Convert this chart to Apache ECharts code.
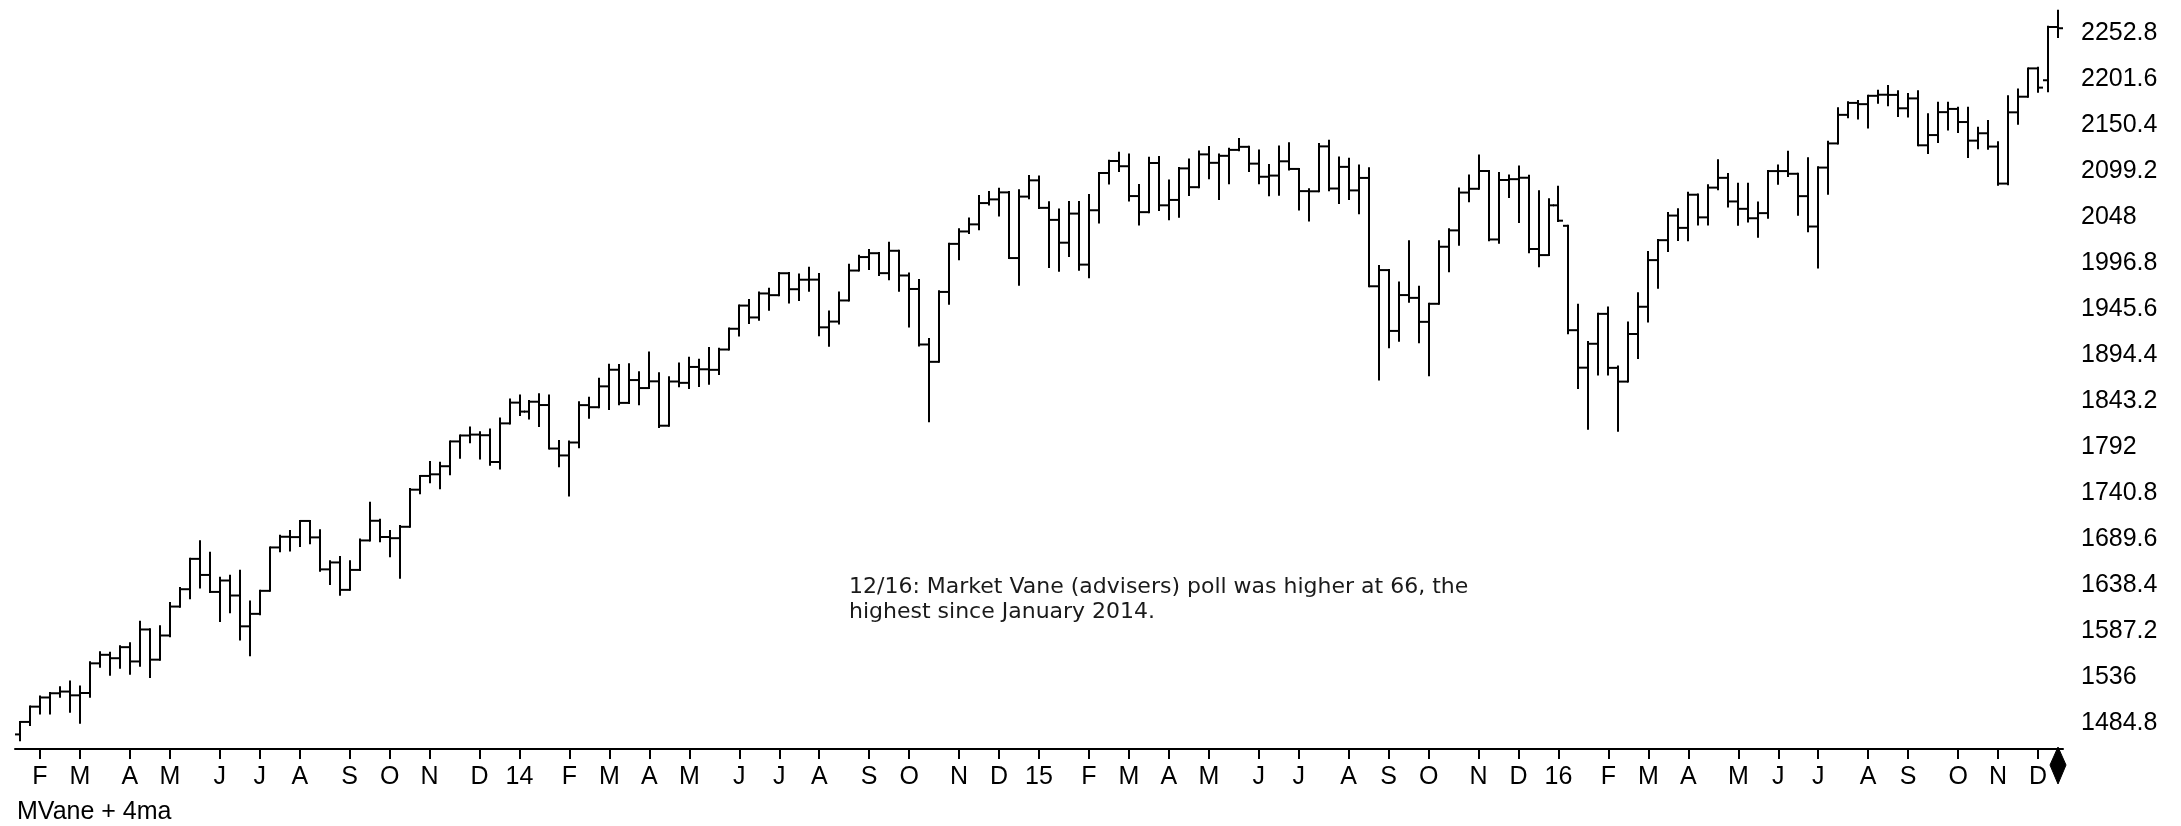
<!DOCTYPE html>
<html><head><meta charset="utf-8">
<script src="https://cdn.jsdelivr.net/npm/echarts@6/dist/echarts.min.js"></script>
<style>html,body{margin:0;padding:0;background:#fff}#c{width:2181px;height:826px}</style>
</head><body><div id="c"></div>
<script>
// Weekly bars (Friday dates), first week and count
const firstWeek = '2013-01-18';
const weekCount = 205;
const monthLetters = ['J','F','M','A','M','J','J','A','S','O','N','D'];
const yTickMin = 1484.8, yTickMax = 2252.8, yTickStep = 51.2;

const opens = [
// 2013
1472.1,1486.0,1503.0,1513.2,1517.9,1519.8,1515.6,1518.2,1551.2,1560.7,
1556.9,1569.2,1553.3,1588.9,1555.3,1582.2,1614.4,1633.7,1667.5,1649.6,
1630.7,1643.4,1626.7,1592.4,1606.3,1631.9,1680.2,1692.1,1691.7,1709.7,
1691.4,1655.8,1663.5,1633.0,1655.2,1688.0,1709.9,1691.8,1690.5,1703.2,
1744.5,1759.8,1761.6,1770.6,1798.2,1804.8,1805.8,1805.1,1775.3,1818.3,
// 2014
1841.4,1831.4,1842.4,1838.7,1790.3,1782.6,1797.0,1838.6,1836.3,1859.5,
1878.0,1841.1,1866.5,1857.6,1865.1,1815.7,1864.9,1863.4,1881.1,1878.5,
1877.9,1900.5,1923.6,1949.4,1936.2,1962.9,1961.0,1985.4,1967.6,1978.2,
1978.3,1925.2,1931.6,1955.1,1988.4,2003.4,2007.7,1985.5,2010.4,1982.9,
1967.9,1906.1,1886.8,1964.6,2018.1,2031.9,2039.8,2063.5,2067.6,2075.4,
2002.3,2070.7,
// 2015
2088.8,2058.2,2044.8,2019.4,2051.8,1995.0,2055.5,2097.0,2110.3,2104.5,
2071.3,2053.4,2108.1,2061.0,2067.0,2102.1,2081.2,2117.7,2108.3,2116.1,
2122.7,2126.1,2107.4,2092.8,2094.1,2110.0,2101.5,2076.8,2076.6,2126.6,
2079.7,2103.8,2077.6,2091.5,1970.9,1988.9,1921.2,1961.1,1958.0,1931.3,
1951.4,2014.9,2033.1,2075.2,2079.4,2099.2,2023.0,2089.2,2090.1,2091.7,
2012.4,2005.6,
// 2016
2061.0,2038.2,1922.0,1880.3,1906.9,1940.2,1880.1,1864.8,1917.8,1948.1,
2000.0,2022.2,2049.6,2035.9,2072.8,2047.6,2080.7,2091.6,2065.3,2057.1,
2046.6,2052.3,2099.1,2099.1,2096.1,2071.2,2037.4,2103.0,2129.9,2161.7,
2175.0,2173.6,2182.9,2184.1,2183.9,2169.0,2180.0,2127.8,2139.2,2164.7,
2168.3,2153.7,2133.0,2141.2,2126.4,2085.2,2164.5,2181.9,2213.4,2200.2,
2259.5
];

const highs = [
// 2013
1486.0,1503.3,1514.4,1518.3,1524.7,1530.9,1525.3,1552.5,1563.6,1563.0,
1570.3,1573.7,1597.4,1589.1,1592.6,1618.5,1635.0,1667.5,1687.2,1674.2,
1646.5,1648.7,1654.2,1620.1,1632.1,1680.2,1693.1,1698.4,1709.7,1709.7,
1699.4,1664.9,1669.5,1664.8,1689.0,1729.9,1711.0,1698.4,1704.0,1745.3,
1759.8,1775.2,1774.5,1798.2,1804.8,1813.6,1808.4,1811.5,1823.8,1844.9,
// 2014
1849.4,1843.2,1850.8,1849.3,1798.8,1798.0,1841.7,1846.9,1867.9,1883.6,
1883.3,1884.0,1875.2,1897.3,1874.1,1869.6,1884.9,1891.3,1889.1,1902.2,
1901.3,1924.0,1949.4,1955.6,1963.9,1968.2,1985.6,1985.6,1983.9,1991.4,
1984.6,1942.9,1964.0,1994.8,2005.0,2011.2,2008.0,2019.3,2010.4,1985.2,
1977.8,1912.1,1965.3,2018.2,2034.3,2046.2,2071.5,2075.8,2079.5,2075.8,
2077.9,2093.5,
// 2015
2093.0,2064.4,2056.4,2064.6,2064.6,2072.4,2097.0,2110.6,2119.6,2117.5,
2083.5,2113.9,2114.9,2088.5,2102.6,2111.9,2120.9,2125.9,2117.7,2123.9,
2134.7,2126.2,2121.9,2106.0,2126.6,2130.0,2101.5,2078.8,2129.3,2132.8,
2114.2,2112.7,2105.4,2102.3,1993.5,1988.9,1975.0,2020.9,1970.5,1951.4,
2020.9,2034.5,2079.7,2094.3,2116.5,2099.2,2097.1,2094.1,2104.3,2093.8,
2076.7,2067.7,
// 2016
2081.6,2038.2,1950.3,1908.9,1940.2,1947.2,1881.6,1930.7,1963.0,2009.1,
2022.4,2052.4,2056.6,2075.1,2073.0,2083.3,2111.1,2096.0,2084.9,2084.9,
2064.2,2099.3,2105.3,2120.6,2096.1,2113.3,2103.5,2131.7,2169.1,2175.6,
2177.1,2182.9,2188.5,2193.8,2187.9,2184.9,2187.9,2162.3,2175.3,2175.3,
2169.6,2169.6,2147.3,2154.8,2131.1,2182.3,2189.9,2213.4,2214.1,2259.8,
2277.5
];

const lows = [
// 2013
1465.6,1482.5,1495.3,1495.4,1514.0,1497.3,1485.0,1514.0,1547.4,1538.6,
1546.2,1539.5,1548.6,1536.0,1555.3,1581.3,1614.2,1623.7,1635.5,1630.7,
1598.2,1608.1,1577.7,1560.3,1605.9,1631.9,1676.0,1676.9,1681.9,1684.9,
1654.2,1639.4,1627.5,1633.0,1655.2,1688.0,1687.1,1670.4,1646.5,1703.2,
1740.5,1752.7,1746.2,1761.6,1780.0,1797.4,1779.1,1772.3,1768.0,1818.2,
// 2014
1827.7,1823.7,1815.5,1790.3,1770.5,1737.9,1791.8,1824.6,1836.3,1834.4,
1839.6,1841.1,1839.6,1857.6,1814.4,1815.7,1859.7,1857.8,1859.8,1862.4,
1873.3,1900.5,1916.0,1930.0,1933.6,1944.7,1961.0,1952.9,1955.6,1965.8,
1916.4,1904.8,1929.4,1955.1,1988.4,1990.1,1983.5,1978.6,1966.0,1926.0,
1905.0,1820.7,1886.8,1951.4,2001.0,2030.2,2034.5,2062.0,2049.6,2002.3,
1972.6,2069.0,
// 2015
2057.9,1992.4,1988.1,2004.5,1989.2,1980.9,2041.9,2085.4,2099.1,2066.4,
2039.7,2053.4,2055.7,2045.5,2048.4,2072.4,2081.2,2091.0,2067.9,2085.7,
2122.3,2099.2,2085.7,2072.1,2072.8,2101.0,2056.3,2044.0,2076.6,2077.7,
2063.5,2067.9,2052.1,1970.9,1867.0,1903.1,1910.2,1953.6,1908.7,1871.9,
1951.4,1987.5,2017.2,2065.5,2079.4,2022.0,2019.4,2070.3,2042.4,2008.9,
1993.3,2005.6,
// 2016
2043.6,1918.5,1857.8,1812.3,1872.7,1872.7,1810.1,1864.8,1891.0,1931.8,
1969.3,2010.1,2022.5,2022.1,2039.7,2039.6,2079.0,2059.8,2039.5,2043.1,
2025.9,2047.3,2085.1,2093.6,2050.4,2032.1,1991.7,2074.0,2129.9,2159.0,
2157.6,2147.6,2175.1,2172.4,2160.4,2160.0,2127.8,2119.1,2131.5,2145.4,
2142.6,2114.7,2124.6,2123.9,2083.8,2084.5,2151.8,2181.9,2187.4,2187.9,
2248.4
];

const closes = [
// 2013
1486.0,1503.0,1513.2,1517.9,1519.8,1515.6,1518.2,1551.2,1560.7,1556.9,
1569.2,1553.3,1588.9,1555.3,1582.2,1614.4,1633.7,1667.5,1649.6,1630.7,
1643.4,1626.7,1592.4,1606.3,1631.9,1680.2,1692.1,1691.7,1709.7,1691.4,
1655.8,1663.5,1633.0,1655.2,1688.0,1709.9,1691.8,1690.5,1703.2,1744.5,
1759.8,1761.6,1770.6,1798.2,1804.8,1805.8,1805.1,1775.3,1818.3,1841.4,
// 2014
1831.4,1842.4,1838.7,1790.3,1782.6,1797.0,1838.6,1836.3,1859.5,1878.0,
1841.1,1866.5,1857.6,1865.1,1815.7,1864.9,1863.4,1881.1,1878.5,1877.9,
1900.5,1923.6,1949.4,1936.2,1962.9,1961.0,1985.4,1967.6,1978.2,1978.3,
1925.2,1931.6,1955.1,1988.4,2003.4,2007.7,1985.5,2010.4,1982.9,1967.9,
1906.1,1886.8,1964.6,2018.1,2031.9,2039.8,2063.5,2067.6,2075.4,2002.3,
2070.7,2088.8,
// 2015
2058.2,2044.8,2019.4,2051.8,1995.0,2055.5,2097.0,2110.3,2104.5,2071.3,
2053.4,2108.1,2061.0,2067.0,2102.1,2081.2,2117.7,2108.3,2116.1,2122.7,
2126.1,2107.4,2092.8,2094.1,2110.0,2101.5,2076.8,2076.6,2126.6,2079.7,
2103.8,2077.6,2091.5,1970.9,1988.9,1921.2,1961.1,1958.0,1931.3,1951.4,
2014.9,2033.1,2075.2,2079.4,2099.2,2023.0,2089.2,2090.1,2091.7,2012.4,
2005.6,2061.0,
// 2016
2043.9,1922.0,1880.3,1906.9,1940.2,1880.1,1864.8,1917.8,1948.1,2000.0,
2022.2,2049.6,2035.9,2072.8,2047.6,2080.7,2091.6,2065.3,2057.1,2046.6,
2052.3,2099.1,2099.1,2096.1,2071.2,2037.4,2103.0,2129.9,2161.7,2175.0,
2173.6,2182.9,2184.1,2183.9,2169.0,2180.0,2127.8,2139.2,2164.7,2168.3,
2153.7,2133.0,2141.2,2126.4,2085.2,2164.5,2181.9,2213.4,2192.0,2259.5,
2258.1
];

const noteText = '12/16: Market Vane (advisers) poll was higher at 66, the\nhighest since January 2014.';
const panelLabel = 'MVane + 4ma';

// weekly category dates
const weeks = [];
{
  const d0 = new Date(firstWeek + 'T00:00:00Z');
  for (let i = 0; i < weekCount; i++) {
    const d = new Date(d0.getTime() + i * 7 * 86400000);
    weeks.push(d.toISOString().slice(0, 10));
  }
}
const monthOf = s => s.slice(0, 7);
const isMonthStart = (i) => i > 0 && monthOf(weeks[i]) !== monthOf(weeks[i - 1]);

const seriesData = weeks.map((w, i) => [i, opens[i], highs[i], lows[i], closes[i]]);

const chart = echarts.init(document.getElementById('c'), null, {renderer: 'canvas'});
const axisFont = '"Liberation Sans", Arial, sans-serif';

chart.setOption({
  animation: false,
  backgroundColor: '#ffffff',
  grid: {left: 15, right: 118, top: 33, bottom: 103},
  xAxis: {
    type: 'category',
    data: weeks,
    boundaryGap: true,
    offset: 26,
    axisLine: {show: true, lineStyle: {color: '#000', width: 2}},
    axisTick: {show: true, alignWithLabel: true, length: 10, interval: (i) => isMonthStart(i), lineStyle: {color: '#000', width: 2}},
    axisLabel: {
      show: true, interval: (i) => isMonthStart(i), margin: 16,
      color: '#000', fontSize: 25, fontFamily: axisFont,
      formatter: (v) => { const m = +v.slice(5, 7); return m === 1 ? v.slice(2, 4) : monthLetters[m - 1]; }
    },
    splitLine: {show: false}
  },
  yAxis: {
    type: 'value',
    position: 'right',
    min: yTickMin, max: yTickMax, interval: yTickStep,
    axisLine: {show: false}, axisTick: {show: false}, splitLine: {show: false},
    axisLabel: {
      margin: 18, color: '#000', fontSize: 25, fontFamily: axisFont,
      formatter: (v) => String(Number(v.toFixed(1)))
    }
  },
  series: [{
    type: 'custom',
    clip: false,
    data: seriesData,
    encode: {x: 0, y: [1, 2, 3, 4]},
    renderItem: function (params, api) {
      const idx = api.value(0);
      const x = Math.round(api.coord([idx, api.value(2)])[0]);
      const yo = api.coord([idx, api.value(1)])[1];
      const yh = api.coord([idx, api.value(2)])[1];
      const yl = api.coord([idx, api.value(3)])[1];
      const yc = api.coord([idx, api.value(4)])[1];
      const st = {stroke: '#000', lineWidth: 2, fill: null};
      const children = [
        {type: 'line', shape: {x1: x, y1: yh - 1, x2: x, y2: yl + 1}, style: st},
        {type: 'line', shape: {x1: x - 5, y1: yo, x2: x, y2: yo}, style: st},
        {type: 'line', shape: {x1: x, y1: yc, x2: x + 5, y2: yc}, style: st}
      ];
      if (params.dataIndex === weekCount - 1) {
        const cs = params.coordSys;
        const ay = cs.y + cs.height + 26;
        children.push({type: 'polygon', shape: {points: [[x, ay - 2], [x + 8, ay + 16], [x, ay + 35], [x - 8, ay + 16]]}, style: {fill: '#000', stroke: '#000', lineWidth: 1}});
      }
      return {type: 'group', children: children};
    }
  }],
  graphic: [
    {type: 'text', left: 849, top: 575, style: {text: noteText, font: '22px "DejaVu Sans", Verdana, sans-serif', fill: '#1a1a1a', lineHeight: 25}},
    {type: 'text', left: 17, top: 800, style: {text: panelLabel, font: '25px "Liberation Sans", Arial, sans-serif', fill: '#000'}}
  ]
});
</script>
</body></html>
